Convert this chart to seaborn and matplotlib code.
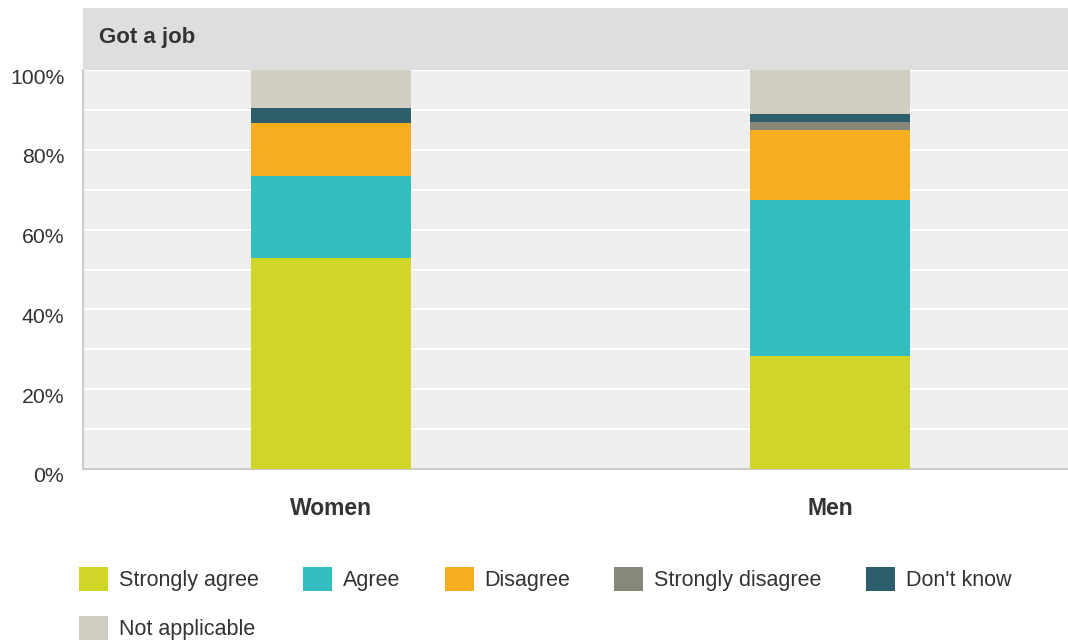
import matplotlib
matplotlib.use("Agg")
import matplotlib.pyplot as plt
import matplotlib.transforms as mtransforms
import seaborn as sns
import pandas as pd
import numpy as np
from matplotlib.patches import Rectangle, Patch

# ---- data ----
groups = ["Women", "Men"]
responses = ["Strongly agree", "Agree", "Disagree", "Strongly disagree", "Don't know", "Not applicable"]
strongly_agree = [52.9, 28.3]
agree = [20.5, 39.1]
disagree = [13.4, 17.6]
strongly_disagree = [0.0, 1.9]
dont_know = [3.7, 2.1]
not_applicable = [9.5, 11.0]
colors = ["#cfd628", "#33bdbf", "#f6ae1f", "#88887a", "#2d5e6b", "#d0cec0"]
title = "Got a job"
ytick_labels = ["0%", "20%", "40%", "60%", "80%", "100%"]

series = [strongly_agree, agree, disagree, strongly_disagree, dont_know, not_applicable]

sns.set_theme(style="white")
plt.rcParams["font.family"] = ["Liberation Sans", "DejaVu Sans"]

W, H = 1068, 642
fig = plt.figure(figsize=(W / 100, H / 100), dpi=100)
fig.patch.set_facecolor("white")
ax_l, ax_r, ax_t, ax_b = 83, 1068, 70, 469
ax = fig.add_axes([ax_l / W, 1 - ax_b / H, (ax_r - ax_l) / W, (ax_b - ax_t) / H])
ax.set_facecolor("#efefef")

# header band
fig.patches.append(Rectangle((ax_l / W, 1 - ax_t / H), (ax_r - ax_l) / W, (ax_t - 8) / H,
                             transform=fig.transFigure, facecolor="#dedede", edgecolor="none", zorder=0))
fig.text(99 / W, 1 - 38 / H, title, fontsize=16, fontweight="bold", color="#333333",
         ha="left", va="center")

bottom = np.zeros(len(groups))
for name, vals, col in zip(responses, series, colors):
    df = pd.DataFrame({"group": groups, "value": vals})
    sns.barplot(data=df, x="group", y="value", order=groups, color=col, width=0.32,
                bottom=bottom.copy(), ax=ax, linewidth=0, saturation=1, zorder=3)
    bottom = bottom + np.array(vals)

ax.set_xlim(-0.497, 1.477)
ax.set_ylim(0, 100)
ax.set_yticks(np.arange(0, 101, 20))
ax.set_yticklabels(ytick_labels)
ax.set_yticks(np.arange(0, 101, 10), minor=True)
ax.yaxis.grid(True, which="both", color="white", linewidth=1.5, zorder=1)
ax.set_axisbelow(True)
ax.tick_params(axis="y", which="both", length=0, pad=13.5, labelsize=15.3, labelcolor="#333333")
ax.tick_params(axis="x", length=0, pad=20, labelsize=16.5, labelcolor="#333333")
shift = mtransforms.ScaledTranslation(0, -6 / 100, fig.dpi_scale_trans)
for lbl in ax.get_yticklabels():
    lbl.set_transform(lbl.get_transform() + shift)
for lbl in ax.get_xticklabels():
    lbl.set_fontweight("bold")
ax.set_xlabel("")
ax.set_ylabel("")
for s in ["top", "right"]:
    ax.spines[s].set_visible(False)
ax.spines["left"].set_color("#cccccc")
ax.spines["bottom"].set_color("#cccccc")
ax.spines["left"].set_linewidth(1.5)
ax.spines["bottom"].set_linewidth(1.5)

handles = [Patch(facecolor=c, edgecolor="none", label=r) for r, c in zip(responses, colors)]
order = [0, 5, 1, 2, 3, 4]
leg = fig.legend([handles[i] for i in order], [responses[i] for i in order], ncol=5,
                 loc="upper left", bbox_to_anchor=(60 / W, 1 - 548 / H), frameon=False,
                 fontsize=15.5, handlelength=1.35, handleheight=1.3, handletextpad=0.5,
                 columnspacing=2.05, labelspacing=1.15, labelcolor="#333333")

fig.savefig("out.png", dpi=100, facecolor="white")
